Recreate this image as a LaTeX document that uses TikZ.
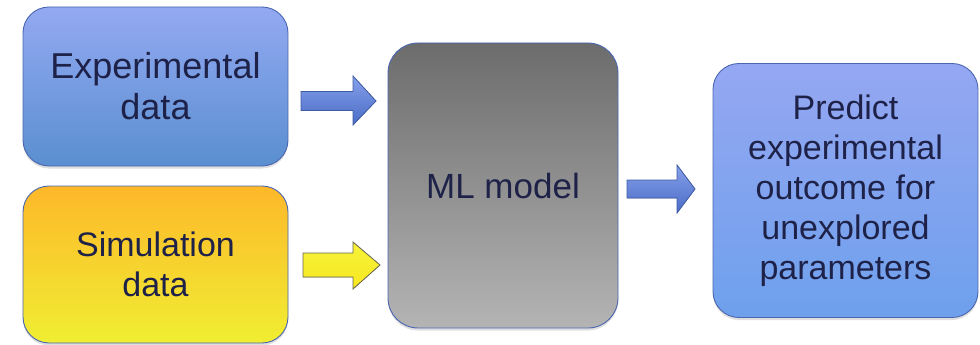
\documentclass[tikz,border=0pt]{standalone}
\usepackage{fontspec}
\setmainfont{Liberation Sans}
\usetikzlibrary{shadows}
\definecolor{txt}{HTML}{1E2248}
\definecolor{edge}{HTML}{4A66B0}
\definecolor{expTop}{HTML}{93A9F2}
\definecolor{expBot}{HTML}{5A8FD0}
\definecolor{simTop}{HTML}{FDB82A}
\definecolor{simBot}{HTML}{F0EE32}
\definecolor{mlTop}{HTML}{6C6C6C}
\definecolor{mlBot}{HTML}{B4B4B4}
\definecolor{prTop}{HTML}{95A7F2}
\definecolor{prBot}{HTML}{6EA0EC}
\definecolor{arTop}{HTML}{86A0EA}
\definecolor{arBot}{HTML}{4A6CC6}
\definecolor{arEdge}{HTML}{3E5CA6}
\definecolor{yeTop}{HTML}{F6F23A}
\definecolor{yeBot}{HTML}{F8E820}
\definecolor{yeEdge}{HTML}{6A6650}
\tikzset{
  box/.style={draw=edge, line width=0.9pt, rounded corners=26pt, text=txt,
    align=center, inner sep=0pt,
    drop shadow={shadow xshift=0pt, shadow yshift=-2.5pt, opacity=0.25}},
  bluearrow/.style={draw=arEdge, line width=0.8pt, top color=arTop, bottom color=arBot},
  yelarrow/.style={draw=yeEdge, line width=0.8pt, top color=yeTop, bottom color=yeBot},
}
\begin{document}
\begin{tikzpicture}[x=1pt,y=-1pt]
\useasboundingbox (0,0) rectangle (980,345);
% boxes
\node[box, top color=expTop, bottom color=expBot, minimum width=265pt, minimum height=159pt,
  font=\fontsize{36}{41}\selectfont] (exp) at (155.5,86.5) {Experimental\\data};
\node[box, top color=simTop, bottom color=simBot, minimum width=265pt, minimum height=157pt,
  font=\fontsize{34}{40}\selectfont] (sim) at (155.5,264.5) {Simulation\\data};
\node[box, rounded corners=30pt, top color=mlTop, bottom color=mlBot, minimum width=230pt, minimum height=285pt,
  font=\fontsize{35}{40}\selectfont] (ml) at (503,185.5) {ML model};
\node[box, top color=prTop, bottom color=prBot, minimum width=265pt, minimum height=254pt,
  font=\fontsize{34}{40}\selectfont] (pred) at (845.5,190.5) {Predict\\experimental\\outcome for\\unexplored\\parameters};
% arrows
\coordinate (a1) at (301,101);
\filldraw[bluearrow] (a1) ++(0,-9.5) -- ++(52,0) -- ++(0,-15.5) -- (376,101) -- (353,125) -- ++(0,-14.5) -- ++(-52,0) -- cycle;
\coordinate (a2) at (303,265);
\filldraw[yelarrow] (a2) ++(0,-12) -- ++(50,0) -- ++(0,-11) -- (380,265) -- (353,289) -- ++(0,-12) -- ++(-50,0) -- cycle;
\coordinate (a3) at (627,189);
\filldraw[bluearrow] (a3) ++(0,-9) -- ++(50,0) -- ++(0,-15) -- (695,189) -- (677,213) -- ++(0,-15) -- ++(-50,0) -- cycle;
\end{tikzpicture}
\end{document}
